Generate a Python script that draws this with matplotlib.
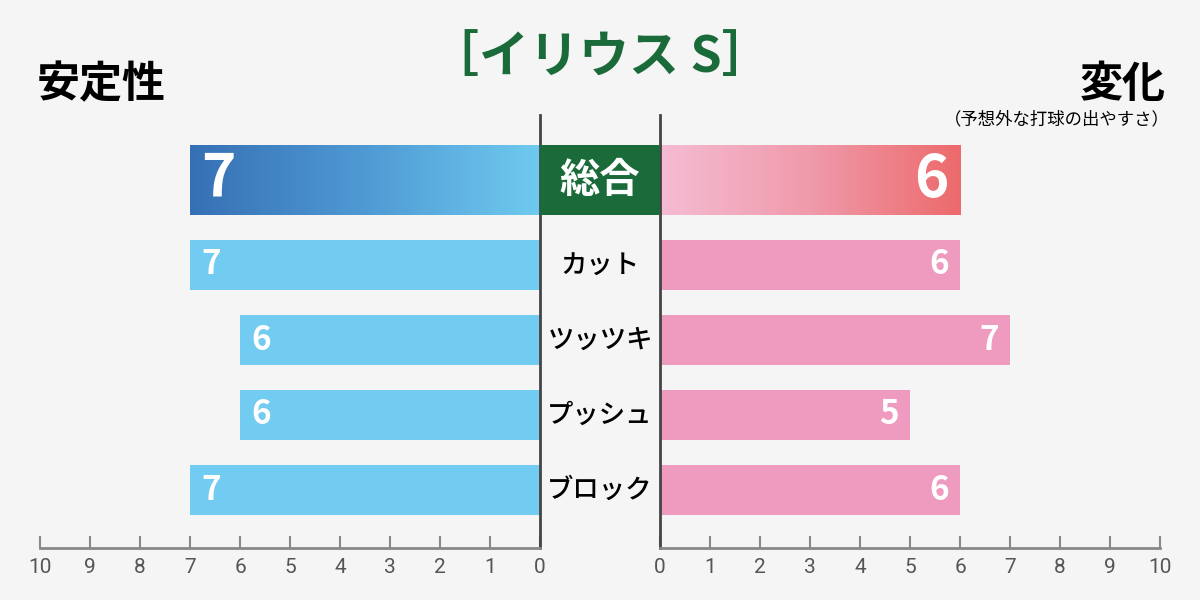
import numpy as np
import matplotlib.pyplot as plt
from matplotlib.colors import LinearSegmentedColormap

plt.rcParams['font.family'] = ['Noto Sans CJK JP', 'DejaVu Sans']

# データ
categories = ['総合', 'カット', 'ツッツキ', 'プッシュ', 'ブロック']
stability = [7, 7, 6, 6, 7]   # 安定性
variation = [6, 6, 7, 5, 6]   # 変化
ticks = list(range(11))

bg = '#f5f5f5'
green = '#1b6b3a'
blue = '#72cbf0'
pink = '#ef9bbf'
cmap_l = LinearSegmentedColormap.from_list('l', ['#6fcaef', '#4f9ad4', '#3670b4'])
cmap_r = LinearSegmentedColormap.from_list('r', ['#f5bcd3', '#f09aab', '#ec6a6b'])

# 行の位置（ピクセル、上から）
centers = [180] + [265 + 75 * i for i in range(len(categories) - 1)]
heights = [70] + [50] * (len(categories) - 1)

fig = plt.figure(figsize=(12, 6), dpi=100, facecolor=bg)
ax_l = fig.add_axes([40 / 1200, 52 / 600, 500 / 1200, 433 / 600])
ax_r = fig.add_axes([660 / 1200, 52 / 600, 500 / 1200, 433 / 600])
ax_c = fig.add_axes([540 / 1200, 52 / 600, 120 / 1200, 433 / 600])

grad = np.linspace(0, 1, 256).reshape(1, -1)

for ax, vals, col, cmap, side in [(ax_l, stability, blue, cmap_l, 'l'),
                                  (ax_r, variation, pink, cmap_r, 'r')]:
    ax.set_facecolor('none')
    ax.barh(centers[1:], vals[1:], height=heights[1:], color=col, zorder=1)
    c, h, v = centers[0], heights[0], vals[0]
    ax.imshow(grad, cmap=cmap, extent=(0, v, c + h / 2, c - h / 2),
              aspect='auto', zorder=1)
    for i, (c, v) in enumerate(zip(centers, vals)):
        big = i == 0
        ax.text(v - 0.22, c, str(v), ha='left' if side == 'l' else 'right',
                va='center', color='white', weight='bold',
                fontsize=42 if big else 24, zorder=3)
    ax.set_xlim((10, 0) if side == 'l' else (0, 10))
    ax.set_ylim(548, 115)
    ax.set_xticks(ticks)
    ax.set_yticks([])
    ax.tick_params(axis='x', direction='in', length=9, width=1.5, color='#888888',
                   pad=7, labelsize=15, labelcolor='#555555')
    for lab in ax.get_xticklabels():
        lab.set_family(['Liberation Sans Narrow', 'Roboto'])
    ax.spines['top'].set_visible(False)
    ax.spines['bottom'].set_color('#888888')
    ax.spines['bottom'].set_linewidth(2)
    inner, outer = ('right', 'left') if side == 'l' else ('left', 'right')
    ax.spines[outer].set_visible(False)
    ax.spines[inner].set_color('#444444')
    ax.spines[inner].set_linewidth(2)

# 中央の項目名
ax_c.set_xlim(0, 1)
ax_c.set_ylim(548, 115)
ax_c.axis('off')
ax_c.barh(centers[0], 1, height=heights[0], color=green)
for i, (c, name) in enumerate(zip(centers, categories)):
    if i == 0:
        ax_c.text(0.5, c, name, ha='center', va='center', color='white',
                  weight='bold', fontsize=29)
    else:
        ax_c.text(0.5, c, name, ha='center', va='center', color='black',
                  weight='medium', fontsize=19)

# タイトル・見出し
fig.text(0.5, 1 - 58 / 600, '［イリウス S］', ha='center', va='center',
         fontsize=36, weight='bold', color=green)
fig.text(37 / 1200, 1 - 84 / 600, '安定性', ha='left', va='center',
         fontsize=31, weight='bold', color='black')
fig.text(1166 / 1200, 1 - 84 / 600, '変化', ha='right', va='center',
         fontsize=31, weight='bold', color='black')
fig.text(1170 / 1200, 1 - 119 / 600, '（予想外な打球の出やすさ）', ha='right',
         va='center', fontsize=12.5, color='black')

fig.savefig('out.png', dpi=100, facecolor=bg)
